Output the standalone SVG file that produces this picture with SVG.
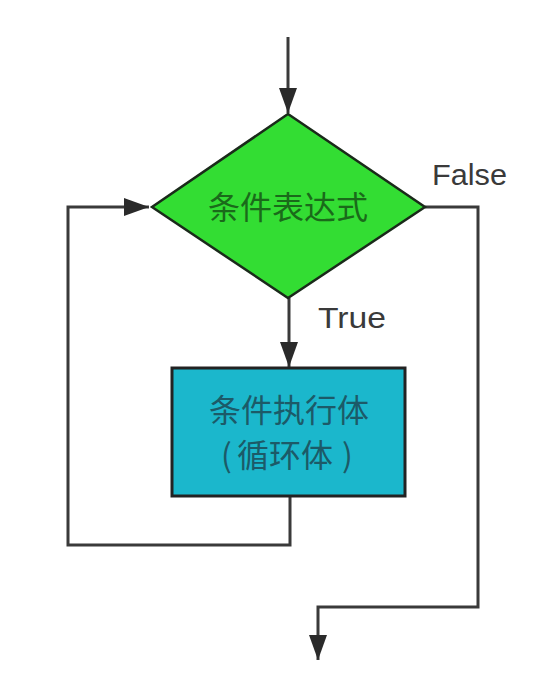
<svg xmlns="http://www.w3.org/2000/svg" width="544" height="674" viewBox="0 0 544 674">
<style>
.conn{fill:none;stroke:#3a3a3a;stroke-width:3;stroke-linejoin:miter}
.lbl{font-family:"Liberation Sans","Noto Sans",sans-serif;font-size:30px;fill:#3a3a3a}
.cjk{font-family:"Noto Sans CJK SC","Noto Sans",sans-serif;font-size:32px}
</style>
<defs>
<marker id="arr" markerUnits="userSpaceOnUse" markerWidth="26" markerHeight="20" refX="25" refY="9" orient="auto">
<path d="M0,0 L25,9 L0,18 Z" fill="#2a2a2a"/>
</marker>
</defs>
<rect width="544" height="674" fill="#ffffff"/>
<g id="connectors">
<path class="conn" d="M288,37 L288,113" marker-end="url(#arr)"/>
<path class="conn" d="M289,298 L289,367" marker-end="url(#arr)"/>
<path class="conn" d="M290,496 L290,545 L68,545 L68,207 L149,207" marker-end="url(#arr)"/>
<path class="conn" d="M425,207 L478,207 L478,607 L318,607 L318,660" marker-end="url(#arr)"/>
</g>
<g id="condition">
<polygon points="288,114 425,207 288,298 152,207" fill="#33dd33" stroke="#1a2a1a" stroke-width="2.5"/>
<text class="cjk" x="288" y="219" text-anchor="middle" fill="#1a6a1a">条件表达式</text>
</g>
<g id="body">
<rect x="172" y="368" width="233" height="128" fill="#1bb7cc" stroke="#222" stroke-width="3"/>
<text class="cjk" x="289" y="422" text-anchor="middle" fill="#1c5a68">条件执行体</text>
<text class="cjk" y="467" fill="#1c5a68"><tspan x="221">(</tspan><tspan x="237">循环体</tspan><tspan x="342">)</tspan></text>
</g>
<g id="labels">
<text class="lbl" x="432" y="185" textLength="75" lengthAdjust="spacingAndGlyphs">False</text>
<text class="lbl" x="318" y="328" textLength="68" lengthAdjust="spacingAndGlyphs">True</text>
</g>
</svg>
